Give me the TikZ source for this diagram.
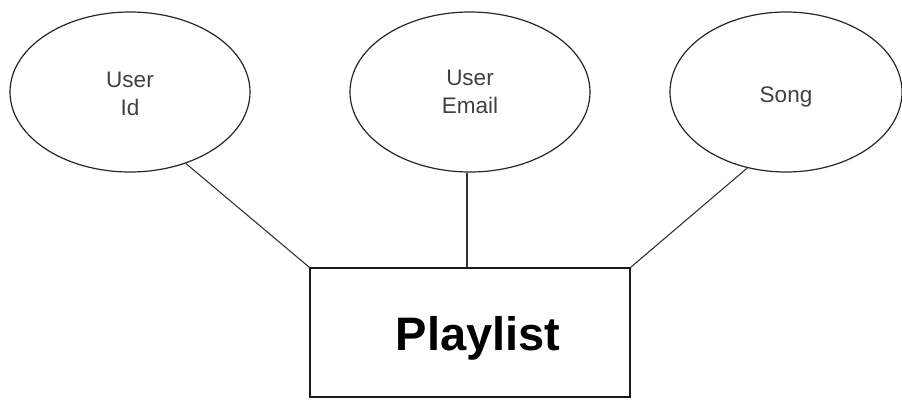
\documentclass[tikz,border=0pt]{standalone}
\usepackage{fontspec}
\setmainfont{Liberation Sans}
\usetikzlibrary{shapes.geometric}
% drop a line of text without changing its box
\newcommand{\dropby}[2]{\raisebox{-#1}[\height][\depth]{#2}}
\begin{document}
\begin{tikzpicture}[x=1pt,y=-1pt,
  attr/.style={draw=black!85, line width=1.2pt, ellipse, minimum width=240pt,
    minimum height=160pt, inner sep=0pt, align=center, text=black!75,
    font=\fontsize{22.5}{28}\selectfont},
  entity/.style={draw=black!90, line width=1.2pt, rectangle, minimum width=320pt,
    minimum height=129pt, inner sep=0pt},
  link/.style={draw=black!80, line width=1.1pt}]
  \useasboundingbox (0,0) rectangle (902,399);
  \node[attr] (uid) at (130,92) {\dropby{2pt}{User}\\\dropby{2pt}{Id}};
  \node[attr] (uem) at (470,92) {User\\Email};
  \node[attr, minimum width=232pt] (song) at (786,92) {\dropby{5pt}{Song}};
  \node[entity] (pl) at (470,332.5) {};
  \node[font=\fontsize{47}{50}\selectfont\bfseries, anchor=base] (pltxt) at (478,350) {Playlist};
  \draw[link] (uid.-52) -- (pl.north west);
  \draw[link] ([xshift=-3pt]uem.south) -- ([xshift=-3pt]pl.north);
  \draw[link] (song.-117) -- (pl.north east);
\end{tikzpicture}
\end{document}
